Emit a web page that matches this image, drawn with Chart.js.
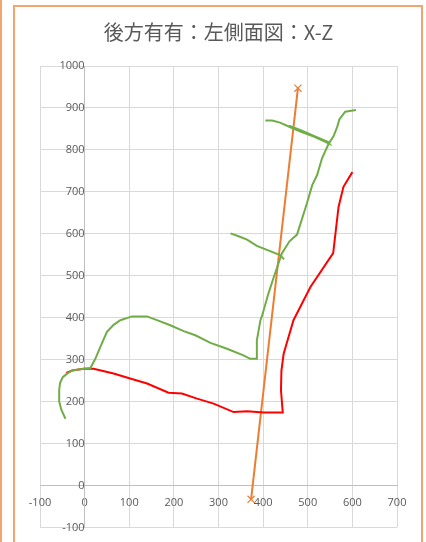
<!DOCTYPE html>
<html>
<head>
<meta charset="utf-8">
<script src="https://cdn.jsdelivr.net/npm/chart.js@4"></script>
<style>
  html, body { margin: 0; padding: 0; background: #fff; }
  #wrap { position: relative; width: 426px; height: 542px; overflow: hidden; }
  #frame { position: absolute; left: 13px; top: 5px; width: 406px; height: 560px; border: 2px solid #F4A46E; }
  #edge { position: absolute; left: 0; top: 0; width: 2px; height: 542px; background: #F4A46E; }
  canvas { position: absolute; left: 0; top: 0; }
</style>
</head>
<body>
<div id="wrap">
  <div id="edge"></div>
  <div id="frame"></div>
  <canvas id="sideView" width="426" height="542"></canvas>
</div>
<script>
// reference line (orange, x markers at both ends)
var refX = [373, 478];
var refY = [-33, 947];

// red outline
var redX = [-41, -28, -2, 20, 65, 102, 140, 188, 218, 252, 289, 334, 364, 401, 444, 440, 441, 446, 468, 506, 557, 569, 580, 600];
var redY = [268, 274, 278, 278, 267, 255, 243, 221, 219, 207, 195, 175, 177, 174, 174, 227, 274, 314, 394, 473, 554, 664, 712, 747];

// green outline (main)
var greenX = [-43, -52, -57, -57, -55, -49, -40, -28, -2, 13, 24, 35, 50, 65, 80, 106, 140, 162, 192, 222, 248, 282, 319, 356, 371, 385, 386, 394, 398, 412, 424, 442, 459, 476, 498, 510, 521, 532, 547, 558, 566, 571, 584, 608];
var greenY = [159, 180, 200, 227, 245, 258, 266, 274, 278, 280, 302, 330, 366, 383, 394, 403, 403, 394, 382, 368, 358, 340, 326, 310, 302, 302, 346, 394, 406, 458, 497, 553, 582, 598, 672, 716, 740, 780, 815, 833, 855, 873, 891, 895];

// green upper branch
var topX = [405, 420, 438, 461, 485, 515, 548, 545, 515, 487, 458];
var topY = [870, 870, 865, 854, 843, 831, 815, 819, 833, 846, 858];

// green middle branch
var midX = [327, 345, 364, 386, 438, 447];
var midY = [601, 594, 586, 571, 549, 539];

var xTicks = [-100, 0, 100, 200, 300, 400, 500, 600, 700];
var yTicks = [-100, 0, 100, 200, 300, 400, 500, 600, 700, 800, 900, 1000];

function pts(xs, ys) {
    var out = [];
    for (var i = 0; i < xs.length; i++) {
        out.push({x: xs[i], y: ys[i]});
    }
    return out;
}

var green = '#70AD47';

const data = {
    datasets: [
        {data: pts(greenX, greenY), borderColor: green, borderWidth: 2, pointRadius: 0, showLine: true, tension: 0},
        {data: pts(topX, topY), borderColor: green, borderWidth: 2, pointRadius: 0, showLine: true},
        {data: pts(midX, midY), borderColor: green, borderWidth: 2, pointRadius: 0, showLine: true},
        {data: pts(redX, redY), borderColor: '#FF0000', borderWidth: 2, pointRadius: 0, showLine: true},
        {data: pts(refX, refY), borderColor: '#ED7D31', backgroundColor: '#ED7D31', borderWidth: 2,
            pointStyle: 'crossRot', pointRadius: 5, pointBorderWidth: 1.2, showLine: true}
    ]
};

const gridColor = '#D9D9D9';
const tickFont = {family: 'Open Sans', size: 11};
const plain = function(v) { return String(v); };

const config = {
    type: 'scatter',
    data,
    options: {
        responsive: false,
        animation: false,
        layout: {
            padding: {left: 40, right: 29, top: 0, bottom: 12}
        },
        scales: {
            x: {
                type: 'linear',
                min: -100,
                max: 700,
                position: {y: 0},
                afterBuildTicks: function(axis) { axis.ticks = xTicks.map(function(v) { return {value: v}; }); },
                grid: {color: gridColor, drawTicks: false, lineWidth: 1},
                border: {display: true, color: '#BFBFBF'},
                ticks: {color: '#595959', font: tickFont, padding: 11, maxRotation: 0, autoSkip: false, callback: plain}
            },
            y: {
                type: 'linear',
                min: -100,
                max: 1000,
                position: {x: 0},
                afterBuildTicks: function(axis) { axis.ticks = yTicks.map(function(v) { return {value: v}; }); },
                grid: {color: gridColor, drawTicks: false, lineWidth: 1},
                border: {display: true, color: '#BFBFBF'},
                ticks: {color: '#595959', font: tickFont, padding: 8, autoSkip: false, callback: plain}
            }
        },
        plugins: {
            legend: {display: false},
            tooltip: {enabled: false},
            title: {
                display: true,
                text: '後方有有：左側面図：X-Z',
                color: '#595959',
                font: {family: '"Noto Sans CJK JP", "Open Sans"', size: 20, weight: 'normal'},
                padding: {top: 20, bottom: 22}
            }
        }
    }
};

new Chart(document.getElementById('sideView'), config);
</script>
</body>
</html>
